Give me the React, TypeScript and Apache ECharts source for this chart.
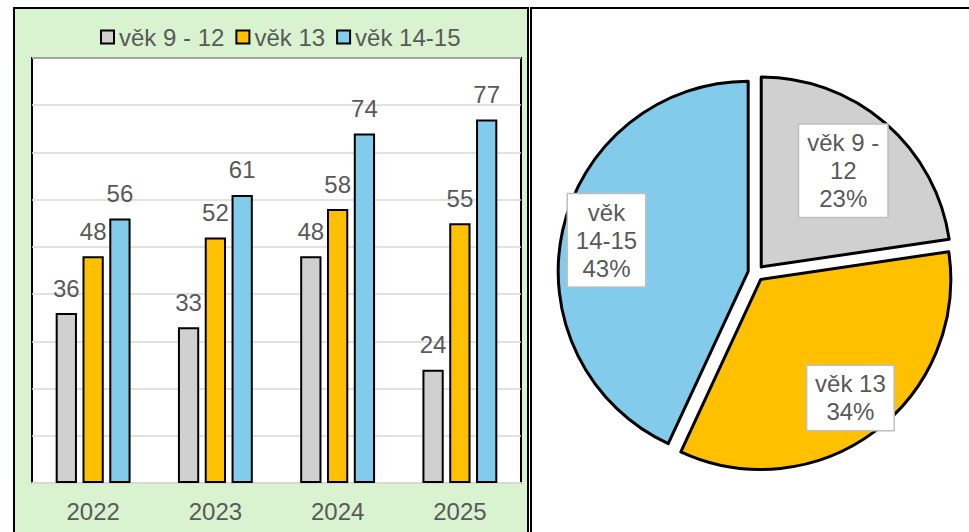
import React, { useEffect, useRef } from "react";
import * as echarts from "echarts";

const years = ["2022", "2023", "2024", "2025"];
const seriesNames = ["věk 9 - 12", "věk 13", "věk 14-15"];
const pieLabelNames = ["věk 9 -\n12", "věk 13", "věk\n14-15"];
const age9to12 = [36, 33, 48, 24];
const age13 = [48, 52, 58, 55];
const age14to15 = [56, 61, 74, 77];
const colors = ["#D0D0D0", "#FFC000", "#83CBEB"];

const FONT = "'Liberation Sans', Arial, sans-serif";
const TXT = "#595959";

function BarChart() {
  const ref = useRef<HTMLDivElement>(null);
  useEffect(() => {
    const chart = echarts.init(ref.current!, null, { renderer: "svg" });
    const values = [age9to12, age13, age14to15];
    chart.setOption({
      animation: false,
      textStyle: { fontFamily: FONT },
      legend: {
        top: 11,
        left: 80,
        itemWidth: 13,
        itemHeight: 13,
        itemGap: 11,
        icon: "rect",
        textStyle: { fontSize: 24, color: TXT, fontFamily: FONT },
        data: seriesNames,
      },
      grid: {
        left: 17,
        top: 49,
        right: 6,
        height: 425,
        show: true,
        backgroundColor: "#ffffff",
        borderColor: "#000000",
        borderWidth: 2,
      },
      xAxis: {
        type: "category",
        data: years,
        axisLine: { lineStyle: { color: "#d9d9d9", width: 2 } },
        axisTick: { show: false },
        axisLabel: { fontSize: 24, color: TXT, margin: 16, fontFamily: FONT },
      },
      yAxis: {
        type: "value",
        min: 0,
        max: 90,
        interval: 10,
        axisLabel: { show: false },
        axisLine: { show: false },
        axisTick: { show: false },
        splitLine: { lineStyle: { color: "#d9d9d9", width: 1.5 } },
      },
      series: seriesNames.map((name, i) => ({
        name,
        type: "bar",
        data: values[i],
        barWidth: "17.4%",
        barGap: "26%",
        itemStyle: { color: colors[i], borderColor: "#000000", borderWidth: 2 },
        label: {
          show: true,
          position: "top",
          distance: 13,
          fontSize: 24,
          color: TXT,
          fontFamily: FONT,
        },
        emphasis: { disabled: true },
      })),
    });
    return () => chart.dispose();
  }, []);
  return <div ref={ref} style={{ width: 512, height: 523 }} />;
}

function PieChart() {
  const ref = useRef<HTMLDivElement>(null);
  useEffect(() => {
    const chart = echarts.init(ref.current!, null, { renderer: "svg" });
    const sums = [age9to12, age13, age14to15].map((a) => a.reduce((s, v) => s + v, 0));
    const labelWidths = [82, 80, 71];
    const shifts = [
      [18, -22],
      [31, 40],
      [-46, -10],
    ];
    chart.setOption({
      animation: false,
      textStyle: { fontFamily: FONT },
      series: [
        {
          type: "pie",
          center: [224, 264],
          radius: [0, 190],
          startAngle: 90,
          clockwise: true,
          selectedMode: "multiple",
          selectedOffset: 8,
          emphasis: { disabled: true },
          itemStyle: { borderColor: "#000000", borderWidth: 3 },
          select: { itemStyle: { borderColor: "#000000", borderWidth: 3 } },
          label: {
            show: true,
            position: "inside",
            fontSize: 24,
            lineHeight: 28,
            color: TXT,
            fontFamily: FONT,
            backgroundColor: "#ffffff",
            borderColor: "#bfbfbf",
            borderWidth: 1.5,
            padding: [4, 3],
            align: "center",
            formatter: (p: any) => `${pieLabelNames[p.dataIndex]}\n${Math.round(p.percent)}%`,
          },
          labelLine: { show: false },
          labelLayout: (p: any) => ({ dx: shifts[p.dataIndex][0], dy: shifts[p.dataIndex][1] }),
          data: seriesNames.map((name, i) => ({
            name,
            value: sums[i],
            selected: true,
            itemStyle: { color: colors[i] },
            label: { width: labelWidths[i] },
          })),
        },
      ],
    });
    return () => chart.dispose();
  }, []);
  return <div ref={ref} style={{ width: 437, height: 523 }} />;
}

export default function App() {
  return (
    <div
      style={{
        position: "fixed",
        left: 0,
        top: 0,
        width: 969,
        height: 532,
        background: "#ffffff",
        overflow: "hidden",
      }}
    >
      <div
        style={{
          position: "absolute",
          left: 13,
          top: 7,
          width: 512,
          height: 540,
          border: "2px solid #000000",
          background: "#D9F2D0",
        }}
      >
        <BarChart />
      </div>
      <div
        style={{
          position: "absolute",
          left: 530,
          top: 7,
          width: 450,
          height: 540,
          borderLeft: "2px solid #000000",
          borderTop: "2px solid #000000",
          background: "#ffffff",
        }}
      >
        <PieChart />
      </div>
    </div>
  );
}
